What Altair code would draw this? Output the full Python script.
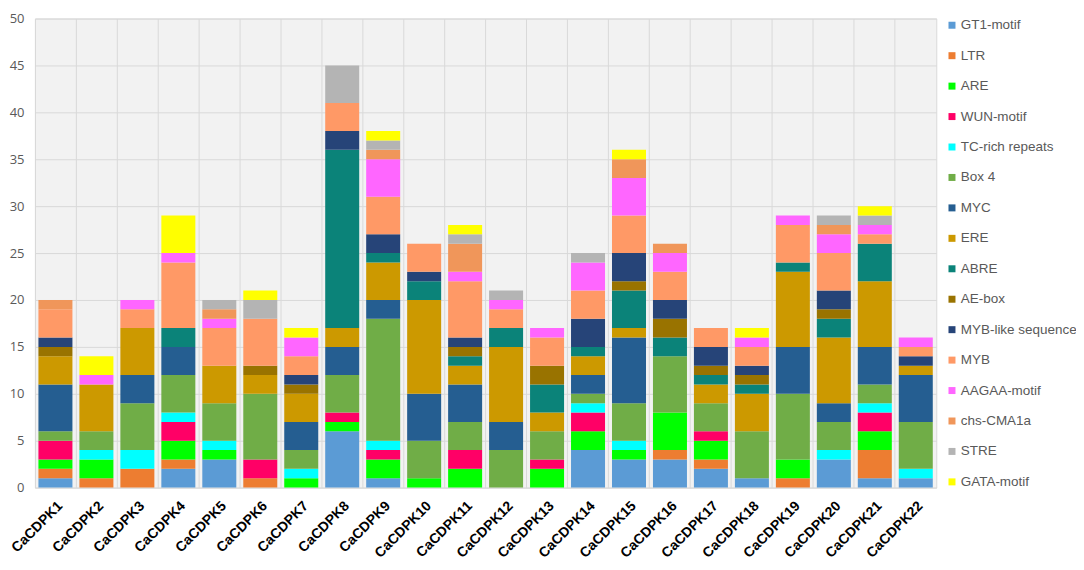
import altair as alt
import pandas as pd

genes = [f"CaCDPK{i}" for i in range(1, 23)]

motifs = ["GT1-motif", "LTR", "ARE", "WUN-motif", "TC-rich repeats", "Box 4", "MYC", "ERE",
          "ABRE", "AE-box", "MYB-like sequence", "MYB", "AAGAA-motif", "chs-CMA1a", "STRE", "GATA-motif"]

gt1_motif   = [1, 0, 0, 2, 3, 0, 0, 6, 1, 0, 0, 0, 0, 4, 3, 3, 2, 1, 0, 3, 1, 1]
ltr         = [1, 1, 2, 1, 0, 1, 0, 0, 0, 0, 0, 0, 0, 0, 0, 1, 1, 0, 1, 0, 3, 0]
are         = [1, 2, 0, 2, 1, 0, 1, 1, 2, 1, 2, 0, 2, 2, 1, 4, 2, 0, 2, 0, 2, 0]
wun_motif   = [2, 0, 0, 2, 0, 2, 0, 1, 1, 0, 2, 0, 1, 2, 0, 0, 1, 0, 0, 0, 2, 0]
tc_rich     = [0, 1, 2, 1, 1, 0, 1, 0, 1, 0, 0, 0, 0, 1, 1, 0, 0, 0, 0, 1, 1, 1]
box4        = [1, 2, 5, 4, 4, 7, 2, 4, 13, 4, 3, 4, 3, 1, 4, 6, 3, 5, 7, 3, 2, 5]
myc         = [5, 0, 3, 3, 0, 0, 3, 3, 2, 5, 4, 3, 0, 2, 7, 0, 0, 0, 5, 2, 4, 5]
ere         = [3, 5, 5, 0, 4, 2, 3, 2, 4, 10, 2, 8, 2, 2, 1, 0, 2, 4, 8, 7, 7, 1]
abre        = [0, 0, 0, 2, 0, 0, 0, 19, 1, 2, 1, 2, 3, 1, 4, 2, 1, 1, 1, 2, 4, 0]
ae_box      = [1, 0, 0, 0, 0, 1, 1, 0, 0, 0, 1, 0, 2, 0, 1, 2, 1, 1, 0, 1, 0, 0]
myb_like    = [1, 0, 0, 0, 0, 0, 1, 2, 2, 1, 1, 0, 0, 3, 3, 2, 2, 1, 0, 2, 0, 1]
myb         = [3, 0, 2, 7, 4, 5, 2, 3, 4, 3, 6, 2, 3, 3, 4, 3, 2, 2, 4, 4, 1, 1]
aagaa_motif = [0, 1, 1, 1, 1, 0, 2, 0, 4, 0, 1, 1, 1, 3, 4, 2, 0, 1, 1, 2, 1, 1]
chs_cma1a   = [1, 0, 0, 0, 1, 0, 0, 0, 1, 0, 3, 0, 0, 0, 2, 1, 0, 0, 0, 1, 0, 0]
stre        = [0, 0, 0, 0, 1, 2, 0, 4, 1, 0, 1, 1, 0, 1, 0, 0, 0, 0, 0, 1, 1, 0]
gata_motif  = [0, 2, 0, 4, 0, 1, 1, 0, 1, 0, 1, 0, 0, 0, 1, 0, 0, 1, 0, 0, 1, 0]

series = [gt1_motif, ltr, are, wun_motif, tc_rich, box4, myc, ere,
          abre, ae_box, myb_like, myb, aagaa_motif, chs_cma1a, stre, gata_motif]

colors = ["#5B9BD5", "#ED7D31", "#00FF00", "#FF0066", "#00FFFF", "#70AD47", "#255E91", "#CC9900",
          "#0B8379", "#997300", "#264478", "#FF9966", "#FF66FF", "#F0965A", "#B4B4B4", "#FFFF00"]

rows = []
for k, (m, vals) in enumerate(zip(motifs, series)):
    for g, v in zip(genes, vals):
        rows.append({"gene": g, "motif": m, "count": v, "idx": k})
df = pd.DataFrame(rows)

chart = alt.Chart(df).mark_bar(width=alt.RelativeBandSize(0.83)).encode(
    x=alt.X("gene:N", sort=genes, title=None,
            scale=alt.Scale(paddingInner=0, paddingOuter=0),
            axis=alt.Axis(labelAngle=-45, labelFont="Liberation Sans", labelFontWeight="bold",
                          labelFontSize=14, labelColor="#000000", domain=False, ticks=False,
                          grid=True, bandPosition=0, gridColor="#d9d9d9", labelPadding=11)),
    y=alt.Y("sum(count):Q", title=None,
            scale=alt.Scale(domain=[0, 50], nice=False),
            axis=alt.Axis(values=list(range(0, 51, 5)), labelFont="Open Sans", labelFontSize=13,
                          labelColor="#595959", domain=False, ticks=False, gridColor="#d9d9d9",
                          labelPadding=11)),
    color=alt.Color("motif:N", sort=motifs,
                    scale=alt.Scale(domain=motifs, range=colors),
                    legend=alt.Legend(title=None, symbolType="square", symbolSize=49,
                                      symbolStrokeWidth=0, labelFont="Liberation Sans",
                                      labelFontSize=13.5, labelColor="#595959", rowPadding=15.5,
                                      offset=9, padding=0, labelOffset=2)),
    order=alt.Order("idx:Q", sort="ascending"),
).properties(
    width=903, height=470,
    autosize=alt.AutoSizeParams(type="none"),
    padding={"left": 27, "top": 10, "right": 140, "bottom": 74},
).configure_view(
    fill="#f2f2f2", stroke="#d9d9d9"
)

chart.save("out.html", embed_options={"renderer": "svg", "actions": False})
